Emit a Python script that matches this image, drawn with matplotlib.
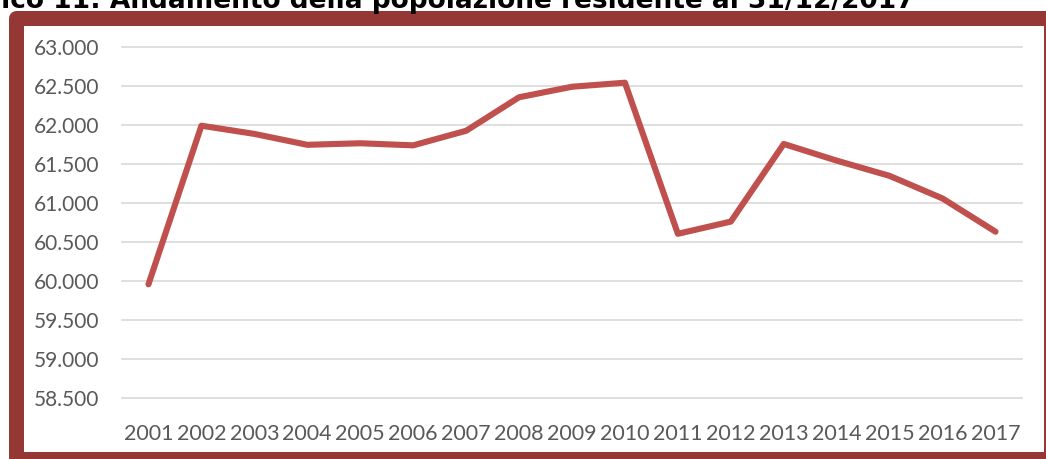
"""Grafico 11 — andamento della popolazione residente al 31/12, 2001-2017."""

import matplotlib

matplotlib.use("Agg")
import matplotlib.pyplot as plt
from matplotlib.patches import Rectangle
from matplotlib.ticker import FuncFormatter

W, H = 1046, 459

years = [2001, 2002, 2003, 2004, 2005, 2006, 2007, 2008, 2009,
         2010, 2011, 2012, 2013, 2014, 2015, 2016, 2017]
population = [59955, 61990, 61885, 61745, 61765, 61738, 61925, 62355, 62490,
              62542, 60603, 60760, 61756, 61542, 61346, 61056, 60630]
y_ticks = [58500, 59000, 59500, 60000, 60500, 61000, 61500, 62000, 62500, 63000]
title = "Grafico 11: Andamento della popolazione residente al 31/12/2017"

FRAME = "#953735"
LINE = "#C0504D"
GRID = "#D9D9D9"
LABEL = "#595959"


def thousands(v, _pos):
    return f"{v:,.0f}".replace(",", ".")


def main():
    fig = plt.figure(figsize=(W / 100, H / 100), dpi=100)

    # background layer in pixel coordinates: frame + title
    bg = fig.add_axes([0, 0, 1, 1], zorder=0)
    bg.set_xlim(0, W)
    bg.set_ylim(H, 0)
    bg.axis("off")
    bg.add_patch(Rectangle((15.5, 17.5), 1050.8 - 15.5, 458.8 - 17.5,
                           facecolor="white", edgecolor=FRAME,
                           linewidth=15 * 72 / 100, joinstyle="round"))
    # the title sits mostly above the visible area, as in the source image
    bg.text(915, 7.5, title, ha="right", va="baseline", fontsize=19,
            fontweight="bold", family="DejaVu Sans", color="black")

    ax = fig.add_axes([122 / W, (H - 397.7) / H, 900 / W, 350.7 / H], zorder=1)
    ax.patch.set_alpha(0)
    ax.plot(years, population, color=LINE, lw=4.4, solid_capstyle="round",
            solid_joinstyle="round", zorder=3)

    ax.set_xlim(2000.5, 2017.5)
    ax.set_ylim(58500, 63000)
    ax.set_xticks(years)
    ax.set_yticks(y_ticks)
    ax.yaxis.set_major_formatter(FuncFormatter(thousands))
    ax.grid(axis="y", color=GRID, lw=1.2)
    for line in ax.get_ygridlines():
        line.set_clip_on(False)
    ax.set_axisbelow(True)
    for s in ax.spines.values():
        s.set_visible(False)
    ax.tick_params(length=0, labelcolor=LABEL, labelsize=15)
    ax.tick_params(axis="x", labelsize=15.5, pad=19)
    ax.tick_params(axis="y", pad=16.5)
    for lab in ax.get_xticklabels() + ax.get_yticklabels():
        lab.set_family("Lato")

    fig.savefig("out.png", dpi=100)


if __name__ == "__main__":
    main()
